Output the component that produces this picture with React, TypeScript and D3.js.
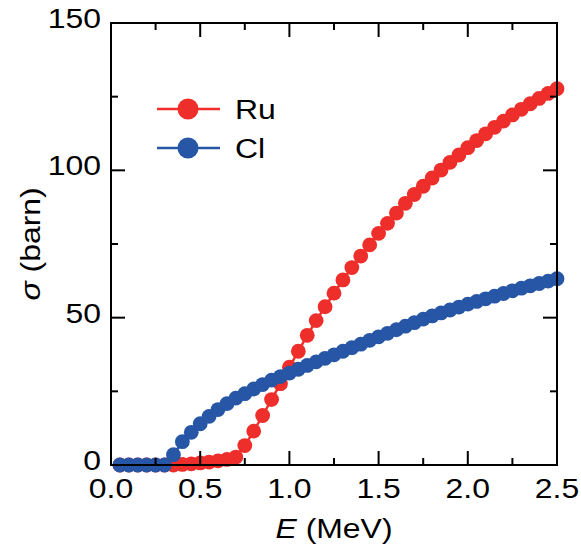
import React from "react";
import * as d3 from "d3";

const energies = [
  0.05, 0.1, 0.15, 0.2, 0.25, 0.3, 0.35, 0.4, 0.45, 0.5,
  0.55, 0.6, 0.65, 0.7, 0.75, 0.8, 0.85, 0.9, 0.95, 1.0,
  1.05, 1.1, 1.15, 1.2, 1.25, 1.3, 1.35, 1.4, 1.45, 1.5,
  1.55, 1.6, 1.65, 1.7, 1.75, 1.8, 1.85, 1.9, 1.95, 2.0,
  2.05, 2.1, 2.15, 2.2, 2.25, 2.3, 2.35, 2.4, 2.45, 2.5,
];

const ruValues = [
  0, 0, 0, 0, 0, 0, 0, 0.2, 0.4, 0.7,
  1.0, 1.4, 1.9, 2.7, 6.6, 11.5, 16.8, 22.2, 27.6, 33.2,
  38.6, 44.0, 49.0, 53.7, 58.3, 62.8, 67.0, 70.9, 74.7, 78.6,
  82.0, 85.5, 88.8, 91.8, 94.6, 97.4, 100.1, 102.7, 105.2, 107.7,
  110.1, 112.4, 114.6, 116.7, 118.8, 120.7, 122.6, 124.4, 126.1, 127.7,
];

const clValues = [
  0, 0, 0, 0, 0, 0, 3.5, 7.9, 11.1, 14.0,
  16.5, 18.8, 20.8, 22.7, 24.2, 25.8, 27.3, 28.8, 30.0, 31.2,
  32.5, 33.8, 35.0, 36.2, 37.4, 38.6, 39.8, 41.0, 42.3, 43.5,
  44.7, 45.9, 47.1, 48.3, 49.5, 50.6, 51.6, 52.6, 53.6, 54.6,
  55.5, 56.4, 57.3, 58.2, 59.1, 60.0, 60.8, 61.6, 62.4, 63.2,
];

const xMajorTicks = [0, 0.5, 1.0, 1.5, 2.0, 2.5];
const xMinorTicks = [0.25, 0.75, 1.25, 1.75, 2.25];
const yMajorTicks = [0, 50, 100, 150];
const yMinorTicks = [25, 75, 125];

const seriesList = [
  { name: "Ru", values: ruValues, color: "#EE2E2B" },
  { name: "Cl", values: clValues, color: "#2656A5" },
];

const W = 581;
const H = 550;
const left = 111;
const right = 557;
const top = 23;
const bottom = 465;
const FONT = "'Liberation Sans', Arial, Helvetica, sans-serif";
const SX = 1.14;

function T(props: {
  x: number;
  y: number;
  anchor?: string;
  rotate?: number;
  children: React.ReactNode;
}) {
  const rot = props.rotate ? ` rotate(${props.rotate})` : "";
  return (
    <text
      transform={`translate(${props.x}, ${props.y})${rot} scale(${SX}, 1)`}
      fontSize={28}
      textAnchor={props.anchor || "start"}
      fill="#000"
    >
      {props.children}
    </text>
  );
}

export default function App() {
  const x = d3.scaleLinear().domain([0, 2.5]).range([left, right]);
  const y = d3.scaleLinear().domain([0, 150]).range([bottom, top]);
  const line = d3
    .line<[number, number]>()
    .x((d) => x(d[0]))
    .y((d) => y(d[1]));

  const majorLen = 14;
  const minorLen = 7;

  return (
    <svg
      width={W}
      height={H}
      style={{ position: "absolute", left: 0, top: 0, background: "#fff" }}
      fontFamily={FONT}
    >
      <rect x={0} y={0} width={W} height={H} fill="#fff" />
      {seriesList.map((s) => {
        const pts: [number, number][] = energies.map((e, i) => [e, s.values[i]]);
        return (
          <g key={s.name}>
            <path d={line(pts) || ""} fill="none" stroke={s.color} strokeWidth={2.5} />
            {pts.map((p, i) => (
              <circle key={i} cx={x(p[0])} cy={y(p[1])} r={7.4} fill={s.color} />
            ))}
          </g>
        );
      })}

      <rect
        x={left}
        y={top}
        width={right - left}
        height={bottom - top}
        fill="none"
        stroke="#000"
        strokeWidth={2}
      />
      {xMajorTicks.map((t) => (
        <g key={"xM" + t}>
          <line x1={x(t)} x2={x(t)} y1={bottom} y2={bottom - majorLen} stroke="#000" strokeWidth={2} />
          <line x1={x(t)} x2={x(t)} y1={top} y2={top + majorLen} stroke="#000" strokeWidth={2} />
          <T x={x(t)} y={498} anchor="middle">
            {d3.format(".1f")(t)}
          </T>
        </g>
      ))}
      {xMinorTicks.map((t) => (
        <g key={"xm" + t}>
          <line x1={x(t)} x2={x(t)} y1={bottom} y2={bottom - minorLen} stroke="#000" strokeWidth={2} />
          <line x1={x(t)} x2={x(t)} y1={top} y2={top + minorLen} stroke="#000" strokeWidth={2} />
        </g>
      ))}
      {yMajorTicks.map((t) => (
        <g key={"yM" + t}>
          <line x1={left} x2={left + majorLen} y1={y(t)} y2={y(t)} stroke="#000" strokeWidth={2} />
          <line x1={right} x2={right - majorLen} y1={y(t)} y2={y(t)} stroke="#000" strokeWidth={2} />
          <T x={101} y={y(t) + 5} anchor="end">
            {t}
          </T>
        </g>
      ))}
      {yMinorTicks.map((t) => (
        <g key={"ym" + t}>
          <line x1={left} x2={left + minorLen} y1={y(t)} y2={y(t)} stroke="#000" strokeWidth={2} />
          <line x1={right} x2={right - minorLen} y1={y(t)} y2={y(t)} stroke="#000" strokeWidth={2} />
        </g>
      ))}

      <T x={(left + right) / 2} y={538} anchor="middle">
        <tspan fontStyle="italic">E</tspan>
        <tspan> (MeV)</tspan>
      </T>
      <T x={40} y={(top + bottom) / 2} anchor="middle" rotate={-90}>
        <tspan fontStyle="italic">σ</tspan>
        <tspan> (barn)</tspan>
      </T>

      {seriesList.map((s, i) => {
        const ly = 109 + i * 39;
        return (
          <g key={"lg" + s.name}>
            <line x1={157} x2={220} y1={ly} y2={ly} stroke={s.color} strokeWidth={2.5} />
            <circle cx={188} cy={ly} r={10.5} fill={s.color} />
            <T x={235} y={ly + 10}>
              {s.name}
            </T>
          </g>
        );
      })}
    </svg>
  );
}
